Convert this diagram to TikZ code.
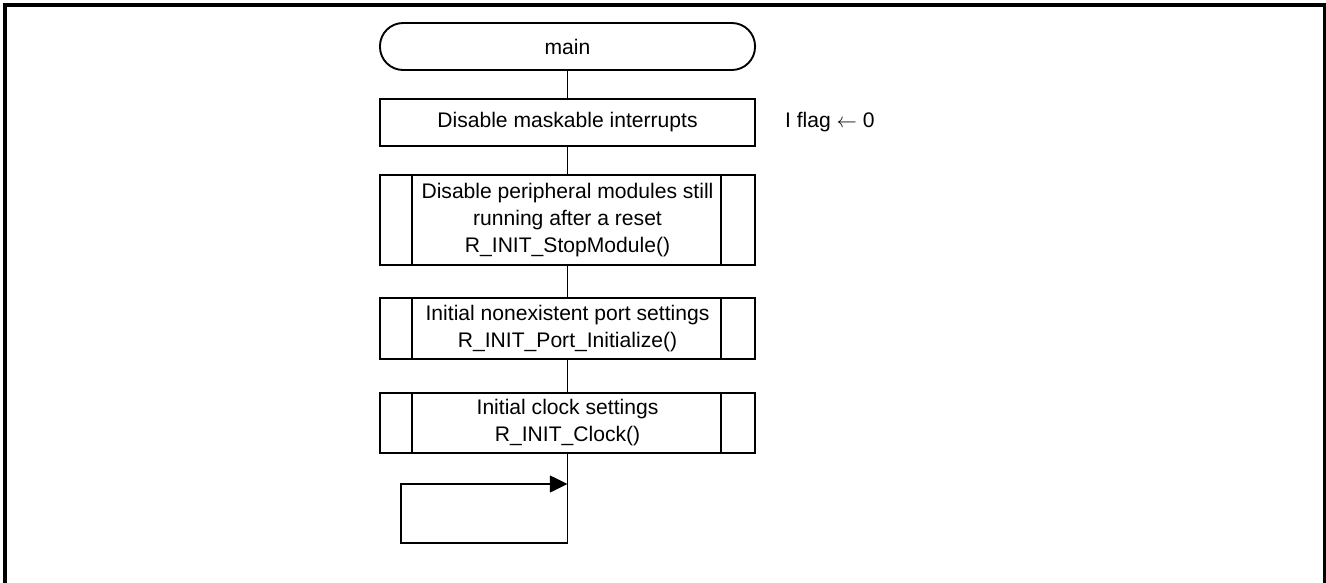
\documentclass[tikz,border=0pt]{standalone}
\usepackage{fontspec}
\setmainfont{Liberation Sans}
\usetikzlibrary{arrows.meta,positioning}
\tikzset{
  base/.style={draw, line width=1.35pt, align=center, inner sep=0pt,
    font=\fontsize{15}{19.2}\selectfont, minimum width=9.375cm},
  term/.style={base, rounded corners=0.58cm, minimum height=1.175cm},
  proc/.style={base},
  subproc/.style={base, path picture={
    \draw[line width=1.35pt] ([xshift=0.8cm]path picture bounding box.north west) -- ([xshift=0.8cm]path picture bounding box.south west);
    \draw[line width=1.35pt] ([xshift=-0.85cm]path picture bounding box.north east) -- ([xshift=-0.85cm]path picture bounding box.south east);}},
  note/.style={inner sep=0pt, font=\fontsize{15}{19.2}\selectfont}
}
\begin{document}
\begin{tikzpicture}[x=0.025cm,y=-0.025cm]
      \useasboundingbox (0,0) rectangle (1326,583);
      \draw[line width=2.2pt] (5,600) -- (5,5) -- (1325,5) -- (1325,600);
      \node[term] (main) at (567.5,46.5) {main};
      \node[proc, minimum height=1.175cm] (int) at (567.5,122.5) {Disable maskable interrupts};
      \node[note, right=0.72cm of int] (flag) {I flag $\leftarrow$ 0};
      \node[subproc, minimum height=2.25cm] (stop) at (567.5,220) {Disable peripheral modules still\\running after a reset\\R\_INIT\_StopModule()};
      \node[subproc, minimum height=1.525cm] (port) at (567.5,328.5) {Initial nonexistent port settings\\R\_INIT\_Port\_Initialize()};
      \node[subproc, minimum height=1.5cm] (clock) at (567.5,423) {Initial clock settings\\R\_INIT\_Clock()};
      \coordinate (loopb) at (401,543);
      \coordinate (loopt) at (567.5,484);
      \begin{scope}[line width=1.35pt]
        \draw (main) to (int);
        \draw (int) to (stop);
        \draw (stop) to (port);
        \draw (port) to (clock);
        \draw[-{Triangle[length=0.44cm,width=0.42cm]}] (clock.south) |- (loopb) |- (loopt);
      \end{scope}
    \end{tikzpicture}
\end{document}
